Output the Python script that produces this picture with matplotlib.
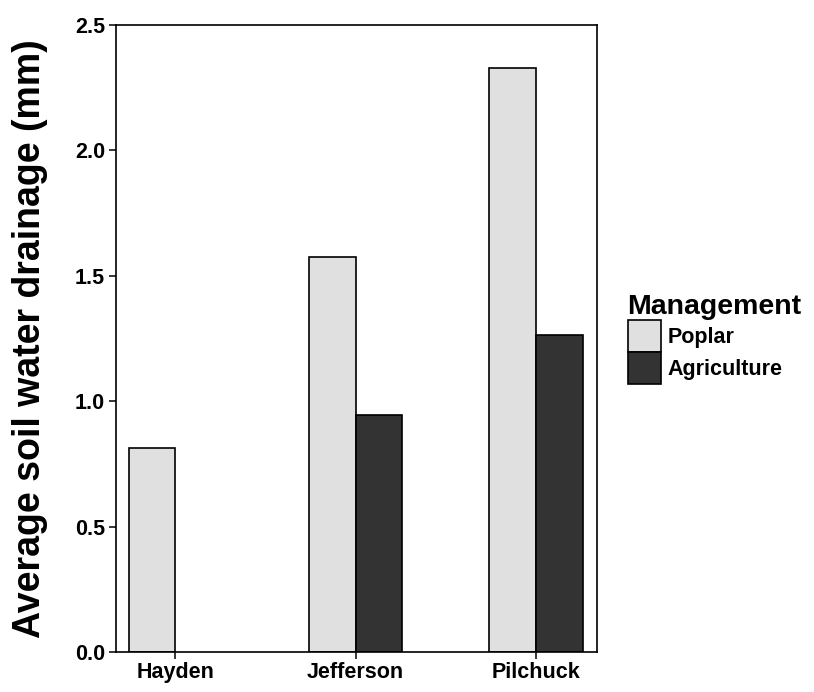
import numpy as np
import matplotlib
matplotlib.use("Agg")
import matplotlib.pyplot as plt

# data
sites = ["Hayden", "Jefferson", "Pilchuck"]
management = ["Poplar", "Agriculture"]
poplar = [0.814, 1.574, 2.33]
agriculture = [np.nan, 0.944, 1.263]
colours = ["#E0E0E0", "#333333"]

plt.rcParams["font.family"] = ["Liberation Sans", "DejaVu Sans"]
plt.rcParams["font.weight"] = "bold"

fig = plt.figure(figsize=(8.14, 6.92), dpi=100)
ax = fig.add_axes([0.1425, 0.0578, 0.7334 - 0.1425, 0.9639 - 0.0578])

x = np.arange(len(sites))
w = 0.26
ax.bar(x - w / 2, poplar, width=w, color=colours[0], edgecolor="black",
       linewidth=1.2, label=management[0])
ax.bar(x + w / 2, agriculture, width=w, color=colours[1], edgecolor="black",
       linewidth=1.2, label=management[1])

ax.set_xlim(-0.33, 2.34)
ax.set_ylim(0, 2.5)
ax.set_yticks([0, 0.5, 1.0, 1.5, 2.0, 2.5])
ax.set_yticklabels(["0.0", "0.5", "1.0", "1.5", "2.0", "2.5"])
ax.set_xticks(x)
ax.set_xticklabels(sites)
ax.tick_params(axis="both", direction="out", length=5, width=1.1,
               labelsize=15.5, colors="black", pad=3)
ax.tick_params(axis="x", pad=2)
for lab in ax.get_xticklabels() + ax.get_yticklabels():
    lab.set_fontweight("bold")
for s in ax.spines.values():
    s.set_linewidth(1.2)
    s.set_color("black")

ax.set_ylabel("Average soil water drainage (mm)", fontsize=27,
              fontweight="bold", labelpad=19)

leg = ax.legend(loc="center left", bbox_to_anchor=(0.771, 0.51),
                bbox_transform=fig.transFigure, frameon=False,
                title="Management", fontsize=15.5, handlelength=1.55,
                handleheight=1.9, labelspacing=0.0, handletextpad=0.3,
                borderpad=0, borderaxespad=0, alignment="left")
leg.get_title().set_fontsize(20.5)
leg.get_title().set_fontweight("bold")
for t in leg.get_texts():
    t.set_fontweight("bold")

fig.savefig("out.png", dpi=100)
